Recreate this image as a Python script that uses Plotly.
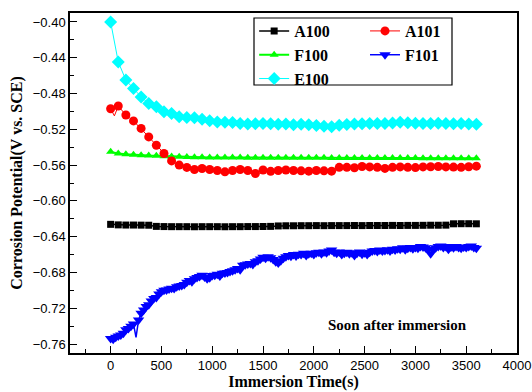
import plotly.graph_objects as go

# ---- data ----
t_a100 = [0, 75, 150, 225, 300, 375, 450, 525, 600, 675, 750, 825, 900, 975, 1050, 1125, 1200,
          1275, 1350, 1425, 1500, 1575, 1650, 1725, 1800, 1875, 1950, 2025, 2100, 2175, 2250,
          2325, 2400, 2475, 2550, 2625, 2700, 2775, 2850, 2925, 3000, 3075, 3150, 3225, 3300,
          3375, 3450, 3525, 3600]
a100 = [-0.6262, -0.6268, -0.6270, -0.6270, -0.6271, -0.6272, -0.6285, -0.6287, -0.6288, -0.6288,
        -0.6288, -0.6289, -0.6288, -0.6288, -0.6288, -0.6289, -0.6288, -0.6288, -0.6287, -0.6287,
        -0.6286, -0.6285, -0.6280, -0.6278, -0.6278, -0.6277, -0.6277, -0.6276, -0.6277, -0.6276,
        -0.6276, -0.6276, -0.6275, -0.6276, -0.6275, -0.6275, -0.6275, -0.6274, -0.6275, -0.6274,
        -0.6274, -0.6273, -0.6272, -0.6272, -0.6271, -0.6256, -0.6255, -0.6255, -0.6256]

t_a101 = [0, 37, 75, 150, 225, 300, 375, 450, 525, 600, 675, 750, 825, 900, 975, 1050, 1125, 1200,
          1275, 1350, 1425, 1500, 1575, 1650, 1725, 1800, 1875, 1950, 2025, 2100, 2175, 2250,
          2325, 2400, 2475, 2550, 2625, 2700, 2775, 2850, 2925, 3000, 3075, 3150, 3225, 3300,
          3375, 3450, 3525, 3600]
a101 = [-0.4970, -0.5050, -0.4940, -0.5040, -0.5106, -0.5190, -0.5285, -0.5378, -0.5470, -0.5553,
        -0.5600, -0.5626, -0.5649, -0.5638, -0.5649, -0.5660, -0.5675, -0.5660, -0.5649, -0.5660,
        -0.5694, -0.5655, -0.5670, -0.5660, -0.5655, -0.5660, -0.5664, -0.5668, -0.5660, -0.5664,
        -0.5668, -0.5625, -0.5625, -0.5630, -0.5615, -0.5620, -0.5625, -0.5637, -0.5625, -0.5620,
        -0.5625, -0.5628, -0.5620, -0.5618, -0.5615, -0.5620, -0.5622, -0.5625, -0.5618, -0.5612]

t_f100 = t_a100
f100 = [-0.5452, -0.5470, -0.5478, -0.5485, -0.5490, -0.5493, -0.5496, -0.5500, -0.5505, -0.5508,
        -0.5510, -0.5512, -0.5513, -0.5514, -0.5515, -0.5515, -0.5516, -0.5516, -0.5517, -0.5517,
        -0.5517, -0.5518, -0.5518, -0.5518, -0.5518, -0.5519, -0.5519, -0.5519, -0.5519, -0.5520,
        -0.5520, -0.5520, -0.5520, -0.5520, -0.5521, -0.5521, -0.5521, -0.5521, -0.5521, -0.5521,
        -0.5521, -0.5522, -0.5522, -0.5522, -0.5522, -0.5522, -0.5522, -0.5522, -0.5522]

t_e100 = t_a100
e100 = [-0.4000, -0.4447, -0.4650, -0.4744, -0.4838, -0.4912, -0.4949, -0.5005, -0.5023, -0.5060,
        -0.5068, -0.5070, -0.5087, -0.5105, -0.5117, -0.5120, -0.5125, -0.5135, -0.5140, -0.5138,
        -0.5135, -0.5138, -0.5143, -0.5140, -0.5148, -0.5143, -0.5150, -0.5158, -0.5165, -0.5170,
        -0.5155, -0.5145, -0.5140, -0.5138, -0.5135, -0.5135, -0.5135, -0.5130, -0.5120, -0.5128,
        -0.5133, -0.5135, -0.5135, -0.5133, -0.5135, -0.5138, -0.5135, -0.5140, -0.5143]

t_f101 = list(range(0, 3601, 25))
f101 = [-0.7537, -0.7545, -0.7525, -0.7510, -0.7500, -0.7480, -0.7440, -0.7425, -0.7400, -0.7375,
        -0.7525, -0.7330, -0.7257, -0.7220, -0.7180, -0.7160, -0.7120, -0.7090, -0.7080, -0.7040,
        -0.7016, -0.7000, -0.6995, -0.6985, -0.6975, -0.6980, -0.6960, -0.6950, -0.6945, -0.6935,
        -0.6910, -0.6890, -0.6905, -0.6870, -0.6855, -0.6845, -0.6830, -0.6850, -0.6870, -0.6860,
        -0.6835, -0.6830, -0.6820, -0.6840, -0.6810, -0.6805, -0.6800, -0.6790, -0.6780, -0.6770,
        -0.6755, -0.6770, -0.6720, -0.6715, -0.6705, -0.6700, -0.6710, -0.6680, -0.6670, -0.6650,
        -0.6630, -0.6640, -0.6625, -0.6635, -0.6655, -0.6680, -0.6695, -0.6670, -0.6640, -0.6625,
        -0.6610, -0.6620, -0.6600, -0.6615, -0.6595, -0.6600, -0.6585, -0.6610, -0.6590, -0.6585,
        -0.6600, -0.6580, -0.6575, -0.6590, -0.6570, -0.6580, -0.6560, -0.6550, -0.6575, -0.6585,
        -0.6570, -0.6600, -0.6585, -0.6575, -0.6590, -0.6580, -0.6610, -0.6585, -0.6570, -0.6595,
        -0.6580, -0.6600, -0.6575, -0.6560, -0.6555, -0.6565, -0.6550, -0.6560, -0.6555, -0.6545,
        -0.6560, -0.6540, -0.6550, -0.6535, -0.6540, -0.6525, -0.6545, -0.6530, -0.6520, -0.6535,
        -0.6520, -0.6530, -0.6510, -0.6515, -0.6525, -0.6540, -0.6590, -0.6545, -0.6525, -0.6510,
        -0.6505, -0.6520, -0.6510, -0.6540, -0.6515, -0.6525, -0.6510, -0.6520, -0.6530, -0.6515,
        -0.6520, -0.6510, -0.6505, -0.6520, -0.6530]
assert len(f101) == len(t_f101)

# ---- figure ----
fig = go.Figure()

a101_opacity = [0 if t % 75 else 1 for t in t_a101]
f101_opacity = [1] * len(t_f101)
f101_opacity[10] = 0  # the short spike has no marker in the original

fig.add_trace(go.Scatter(x=t_a100, y=a100, name="<b>A100</b>", mode="lines+markers",
                         line=dict(color="#000000", width=1.5),
                         marker=dict(symbol="square", size=7, color="#000000"),
                         legend="legend"))
fig.add_trace(go.Scatter(x=t_f100, y=f100, name="<b>F100</b>", mode="lines+markers",
                         line=dict(color="#00FF00", width=2),
                         marker=dict(symbol="triangle-up", size=8, color="#00FF00"),
                         legend="legend"))
fig.add_trace(go.Scatter(x=t_e100, y=e100, name="<b>E100</b>", mode="lines+markers",
                         line=dict(color="#00FFFF", width=1),
                         marker=dict(symbol="diamond", size=10, color="#00FFFF"),
                         legend="legend"))
fig.add_trace(go.Scatter(x=t_a101, y=a101, name="<b>A101</b>", mode="lines+markers",
                         line=dict(color="#FF0000", width=1),
                         marker=dict(symbol="circle", size=9, color="#FF0000",
                                     opacity=a101_opacity),
                         legend="legend2"))
fig.add_trace(go.Scatter(x=t_f101, y=f101, name="<b>F101</b>", mode="lines+markers",
                         line=dict(color="#0000FF", width=1.5),
                         marker=dict(symbol="triangle-down", size=10, color="#0000FF",
                                     opacity=f101_opacity),
                         legend="legend2"))

tick_font = dict(family="Liberation Sans, Arial", size=13, color="#000000")
title_font = dict(family="Liberation Serif, Times New Roman", size=16, color="#000000")
legend_font = dict(family="Liberation Serif, Times New Roman", size=16, color="#000000")

fig.update_layout(
    width=532, height=392,
    margin=dict(l=70, r=15, t=13, b=39),
    paper_bgcolor="white", plot_bgcolor="white",
    showlegend=True,
    legend=dict(x=0.412, y=0.997, xanchor="left", yanchor="top",
                bgcolor="rgba(0,0,0,0)", borderwidth=0, font=legend_font,
                itemwidth=30, tracegroupgap=0),
    legend2=dict(x=0.660, y=0.997, xanchor="left", yanchor="top",
                 bgcolor="rgba(0,0,0,0)", borderwidth=0, font=legend_font,
                 itemwidth=30, tracegroupgap=0),
    shapes=[dict(type="rect", xref="paper", yref="paper",
                 x0=(254 - 70) / 447, x1=(452 - 70) / 447,
                 y0=(353 - 85) / 340, y1=(353 - 18) / 340,
                 line=dict(color="#000000", width=1.2))],
    annotations=[dict(text="<b>Soon after immersion</b>", xref="paper", yref="paper",
                      x=(397 - 70) / 447, y=(353 - 325) / 340, xanchor="center", yanchor="middle",
                      showarrow=False, font=dict(family="Liberation Serif, Times New Roman",
                                                 size=15, color="#000000"))],
)

fig.update_xaxes(range=[-400, 4000], tick0=0, dtick=500, ticks="inside", ticklen=7,
                 tickwidth=1, tickcolor="#000000", automargin=False,
                 minor=dict(dtick=250, ticks="inside", ticklen=4, tickcolor="#000000"),
                 showline=True, linecolor="#000000", linewidth=1.5, mirror=True,
                 showgrid=False, zeroline=False, tickfont=tick_font,
                 title=dict(text="<b>Immersion Time(s)</b>", font=title_font, standoff=2))
fig.update_yaxes(range=[-0.77, -0.39], tick0=-0.40, dtick=0.04, tickformat=".2f",
                 ticks="inside", ticklen=7, tickwidth=1, tickcolor="#000000", automargin=False,
                 minor=dict(dtick=0.02, ticks="inside", ticklen=4, tickcolor="#000000"),
                 showline=True, linecolor="#000000", linewidth=1.5, mirror=True,
                 showgrid=False, zeroline=False, tickfont=tick_font,
                 title=dict(text="<b>Corrosion Potential(V vs. SCE)</b>", font=title_font,
                            standoff=6))

fig.write_html("out.html")
